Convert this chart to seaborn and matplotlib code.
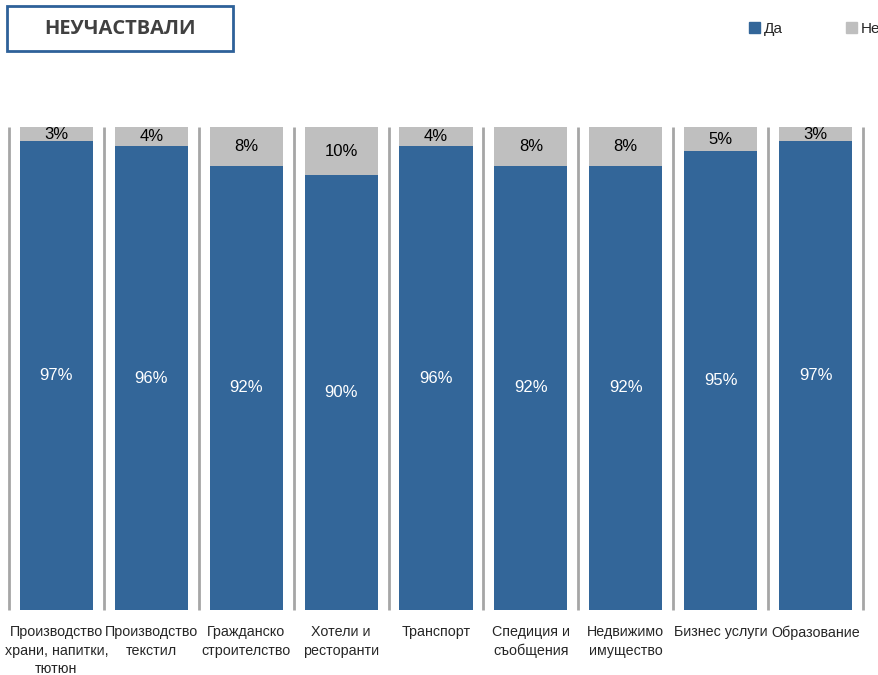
import numpy as np
import pandas as pd
import seaborn as sns
import matplotlib.pyplot as plt
from matplotlib.patches import Patch, Rectangle

# данни
categories = ["Производство\nхрани, напитки,\nтютюн", "Производство\nтекстил",
              "Гражданско\nстроителство", "Хотели и\nресторанти", "Транспорт",
              "Спедиция и\nсъобщения", "Недвижимо\nимущество", "Бизнес услуги",
              "Образование"]
da = [97, 96, 92, 90, 96, 92, 92, 95, 97]
ne = [3, 4, 8, 10, 4, 8, 8, 5, 3]

BLUE = "#336699"
GREY = "#BFBFBF"

sns.set_style("white")
plt.rcParams['font.family'] = ['Liberation Sans Narrow', 'Liberation Sans', 'DejaVu Sans']

df = pd.DataFrame({"cat": categories, "da": da, "ne": ne})
df["total"] = df["da"] + df["ne"]

fig = plt.figure(figsize=(8.79, 6.75), dpi=100)
ax = fig.add_axes([9 / 879, 65 / 675, (863 - 9) / 879, (610 - 127) / 675])

sns.barplot(data=df, x="cat", y="total", color=GREY, width=0.77, saturation=1,
            linewidth=0, ax=ax)
sns.barplot(data=df, x="cat", y="da", color=BLUE, width=0.77, saturation=1,
            linewidth=0, ax=ax)

ax.set_xlim(-0.5, len(categories) - 0.5)
ax.set_ylim(0, 100)
ax.vlines(np.arange(len(categories) + 1) - 0.5, 0, 100, color="#A6A6A6", lw=2, clip_on=False)

for i, r in df.iterrows():
    ax.text(i, r["da"] / 2, f"{r['da']}%", ha="center", va="center", color="white", fontsize=12)
    ax.text(i, r["da"] + r["ne"] / 2, f"{r['ne']}%", ha="center", va="center", color="black", fontsize=12)

ax.set_xlabel("")
ax.set_ylabel("")
ax.set_yticks([])
ax.tick_params(axis="x", length=0, pad=11, labelsize=10.3)
for lbl in ax.get_xticklabels():
    lbl.set_multialignment("center")
    lbl.set_linespacing(1.4)
sns.despine(ax=ax, left=True, bottom=True)

# заглавие в рамка
fig.patches.append(Rectangle((7 / 879, 1 - 51 / 675), 226 / 879, 45 / 675,
                             transform=fig.transFigure, fc="white", ec="#2E6199", lw=2))
fig.text(120 / 879, 1 - 29 / 675, "НЕУЧАСТВАЛИ", ha="center", va="center",
         fontsize=14.5, fontweight="bold", color="#404040",
         family=["Open Sans", "DejaVu Sans"])

handles = [Patch(color=BLUE, label="Да"), Patch(color=GREY, label="Не")]
fig.legend(handles=handles, loc="center left", bbox_to_anchor=(749 / 879, 1 - 29 / 675),
           ncol=2, frameon=False, fontsize=11, handlelength=0.7, handleheight=0.7,
           handletextpad=0.3, columnspacing=4.1, borderpad=0, borderaxespad=0)

fig.savefig("out.png", dpi=100)
